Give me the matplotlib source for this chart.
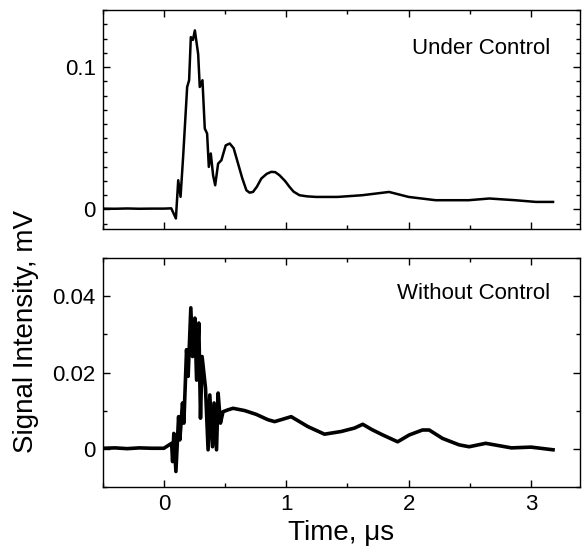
import matplotlib
matplotlib.use("Agg")
import matplotlib.pyplot as plt
from matplotlib.ticker import MultipleLocator

plt.rcParams['font.family'] = ['Liberation Sans', 'DejaVu Sans']

# time (us) and signal (mV), top panel
t_ctrl = [-0.50, -0.40, -0.30, -0.20, -0.10, 0.00, 0.06, 0.098, 0.117, 0.136,
          0.157, 0.190, 0.206, 0.220, 0.237, 0.253, 0.280, 0.293, 0.315, 0.334,
          0.353, 0.367, 0.383, 0.402, 0.419, 0.443, 0.470, 0.505, 0.538, 0.570,
          0.606, 0.640, 0.674, 0.700, 0.728, 0.760, 0.796, 0.840, 0.877, 0.910,
          0.945, 0.990, 1.027, 1.060, 1.108, 1.170, 1.244, 1.420, 1.620,
          1.840, 2.000, 2.220, 2.490, 2.660, 2.870, 3.040, 3.180]
v_ctrl = [0.0006, 0.0005, 0.0007, 0.0005, 0.0006, 0.0006, 0.0008, -0.0063, 0.0205, 0.0089,
          0.0369, 0.0860, 0.0907, 0.1210, 0.1190, 0.1257, 0.1090, 0.0860, 0.0907, 0.0568,
          0.0533, 0.0299, 0.0393, 0.0240, 0.0170, 0.0322, 0.0346, 0.0450, 0.0463, 0.0430,
          0.0322, 0.0220, 0.0135, 0.0118, 0.0123, 0.0160, 0.0217, 0.0250, 0.0264, 0.0262,
          0.0240, 0.0200, 0.0158, 0.0125, 0.0100, 0.0092, 0.0088, 0.0088, 0.0100,
          0.0123, 0.0088, 0.0065, 0.0065, 0.0077, 0.0065, 0.0053, 0.0053]

# bottom panel
t_free = [-0.50, -0.40, -0.30, -0.20, -0.10, 0.00, 0.063, 0.071, 0.081, 0.098,
          0.120, 0.130, 0.152, 0.163, 0.185, 0.198, 0.220, 0.234, 0.253, 0.267,
          0.285, 0.299, 0.312, 0.340, 0.361, 0.375, 0.397, 0.410, 0.430, 0.443,
          0.462, 0.483, 0.524, 0.565, 0.660, 0.755, 0.850, 0.905, 1.040, 1.176,
          1.312, 1.448, 1.557, 1.625, 1.700, 1.788, 1.910, 2.005, 2.113, 2.168,
          2.276, 2.412, 2.494, 2.630, 2.840, 3.000, 3.180]
v_free = [0.0001, 0.0002, 0.0000, 0.0002, 0.0001, 0.0001, 0.0014, -0.0034, 0.0040, -0.0060,
          0.0084, 0.0023, 0.0120, 0.0067, 0.0260, 0.0190, 0.0370, 0.0242, 0.0343, 0.0180,
          0.0330, 0.0080, 0.0242, 0.0159, -0.0003, 0.0141, 0.0005, 0.0120, -0.0003, 0.0146,
          0.0067, 0.0097, 0.0102, 0.0106, 0.0100, 0.0090, 0.0076, 0.0071, 0.0084, 0.0058,
          0.0038, 0.0045, 0.0054, 0.0064, 0.0050, 0.0036, 0.0018, 0.0036, 0.0049, 0.0049,
          0.0027, 0.0010, 0.0005, 0.0014, 0.0002, 0.0004, -0.0003]

fig = plt.figure(figsize=(5.82, 5.57), dpi=100)
ax1 = fig.add_axes([0.1765, 0.5894, 0.820, 0.3926])
ax2 = fig.add_axes([0.1765, 0.1262, 0.820, 0.4100])

ax1.plot(t_ctrl, v_ctrl, color='black', lw=1.8)
ax2.plot(t_free, v_free, color='black', lw=2.6)

ax1.set_ylim(-0.0135, 0.14)
ax2.set_ylim(-0.01, 0.05)

for ax in (ax1, ax2):
    ax.set_xlim(-0.5, 3.4)
    ax.xaxis.set_major_locator(MultipleLocator(1))
    ax.xaxis.set_minor_locator(MultipleLocator(0.5))
    ax.tick_params(which='both', direction='in', top=True, right=True,
                   labelsize=16, width=1.0, pad=5)
    ax.tick_params(which='major', length=5)
    ax.tick_params(which='minor', length=3)
    for s in ax.spines.values():
        s.set_linewidth(1.0)

ax1.set_yticks([0, 0.1])
ax1.set_yticklabels(['0', '0.1'])
ax1.yaxis.set_minor_locator(MultipleLocator(0.01))
ax1.tick_params(labelbottom=False)

ax2.set_yticks([0, 0.02, 0.04])
ax2.set_yticklabels(['0', '0.02', '0.04'])
ax2.yaxis.set_minor_locator(MultipleLocator(0.01))
ax2.set_xticks([0, 1, 2, 3])
ax2.set_xticklabels(['0', '1', '2', '3'])

ax1.text(0.937, 0.826, 'Under Control', transform=ax1.transAxes,
         ha='right', va='center', fontsize=16)
ax2.text(0.937, 0.844, 'Without Control', transform=ax2.transAxes,
         ha='right', va='center', fontsize=16)

ax2.set_xlabel('Time, μs', fontsize=20, labelpad=4)
fig.text(0.045, 0.405, 'Signal Intensity, mV', rotation=90,
         ha='center', va='center', fontsize=20)

fig.savefig('out.png', dpi=100)
